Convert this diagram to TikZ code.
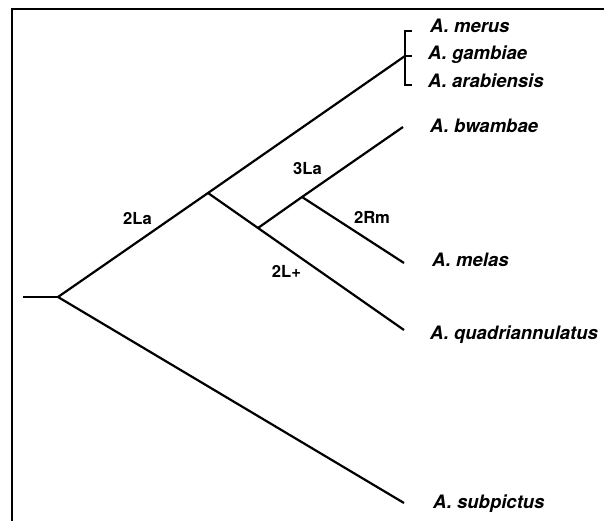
\documentclass[tikz,border=0pt]{standalone}
\usepackage{fontspec}
\setmainfont{TeX Gyre Heros}
\begin{document}
\begin{tikzpicture}[x=1pt,y=-1pt,
  branch/.style={line width=2.2pt,line cap=butt},
  frameline/.style={line width=2pt},
  species/.style={anchor=base west,inner sep=0pt,font=\fontsize{18.5}{20}\selectfont\bfseries\itshape},
  mut/.style={anchor=base,inner sep=0pt,font=\fontsize{16.6}{18}\selectfont\bfseries}]
\useasboundingbox (0,0) rectangle (604,521);
\fill[white] (0,0) rectangle (604,521);
\draw[frameline] (12,522) -- (12,9) -- (605,9);
% coordinates
\coordinate (stem) at (23,297);
\coordinate (R) at (58,297);
\coordinate (N1) at (208,193);
\coordinate (N2) at (258,228);
\coordinate (N3) at (302,197);
\coordinate (Bm) at (405,56);
\coordinate (Bt) at (405,31);
\coordinate (Bb) at (405,85);
\coordinate (Tt) at (412,31);
\coordinate (Tm) at (412,56);
\coordinate (Tb) at (412,85);
\coordinate (Ebw) at (403,127);
\coordinate (Eme) at (404,263);
\coordinate (Equ) at (404,330);
\coordinate (Esu) at (404,503);
% tree
\draw[branch] (stem) -- (R);
\draw[branch] (R) -- (N1) -- (Bm);
\draw[branch] (N1) -- (N2) -- (Equ);
\draw[branch] (N2) -- (N3) -- (Ebw);
\draw[branch] (N3) -- (Eme);
\draw[branch] (R) -- (Esu);
\draw[branch] (Tt) -- (Bt) -- (Bb) -- (Tb);
\draw[branch] (Bm) -- (Tm);
% species
\node[species] (merus) at (430,33) {A. merus};
\node[species] (gamb) at (428,60) {A. gambiae};
\node[species] (arab) at (428,88) {A. arabiensis};
\node[species] (bwam) at (430,133) {A. bwambae};
\node[species] (melas) at (432,266) {A. melas};
\node[species] (quad) at (430,339) {A. quadriannulatus};
\node[species] (subp) at (433,508) {A. subpictus};
% mutations
\node[mut] (m2La) at (137.5,224) {2La};
\node[mut] (m3La) at (307.5,175) {3La};
\node[mut] (m2Rm) at (372,223) {2Rm};
\node[mut] (m2Lp) at (286.5,277) {2L+};
\end{tikzpicture}
\end{document}
